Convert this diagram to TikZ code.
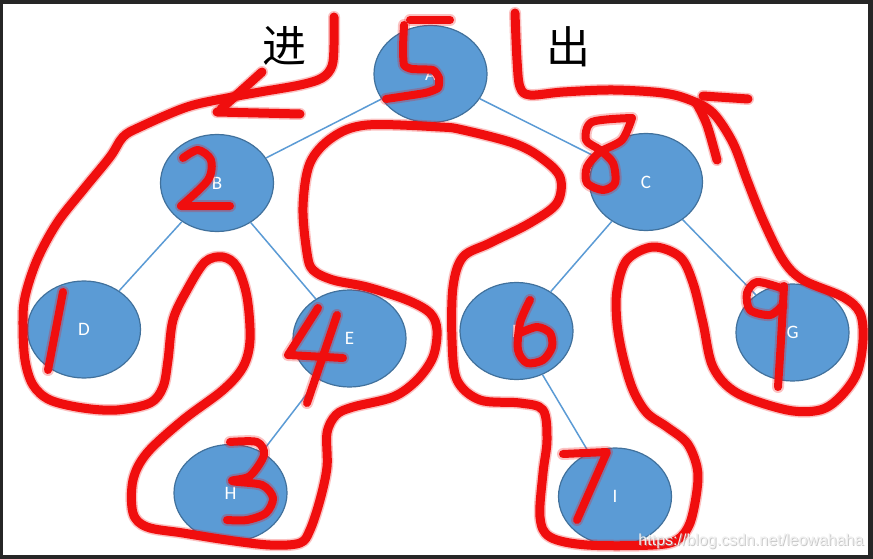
\documentclass[tikz,border=0pt]{standalone}
\usepackage{fontspec}
\setmainfont{Carlito}
\newfontfamily\cjk{Noto Sans CJK SC}
\newfontfamily\wmfont{Liberation Sans}
\usetikzlibrary{shapes.geometric}
\definecolor{nodeblue}{HTML}{5B9BD5}
\definecolor{nodeborder}{HTML}{41719C}
\definecolor{inkred}{RGB}{240,14,14}
\definecolor{framegray}{HTML}{262626}
\begin{document}
\begin{tikzpicture}[x=1pt,y=-1pt,
  tnode/.style={ellipse, draw=nodeborder, line width=1.2pt, fill=nodeblue, text=white,
    inner sep=0pt, minimum width=113pt, minimum height=97pt,
    font=\fontsize{19}{19}\selectfont},
  edge/.style={draw=nodeblue, line width=1.5pt},
  ink/.style={draw=inkred, line width=9pt, line cap=round, line join=round,
    preaction={draw=inkred, line width=12pt, draw opacity=0.25, line cap=round, line join=round}},
  digit/.style={ink, line width=8pt}]
\fill[framegray] (0,0) rectangle (873,559);
\fill[white] (3,4) rectangle (868,555);
\useasboundingbox (0,0) rectangle (873,559);

% tree nodes
\node[tnode] (A) at (430.5,74) {A};
\node[tnode] (B) at (217,183) {B};
\node[tnode] (C) at (646,182) {C};
\node[tnode] (D) at (84,329.5) {D};
\node[tnode] (E) at (349.5,338.5) {E};
\node[tnode] (F) at (516.5,331) {F};
\node[tnode] (G) at (792.5,332.5) {G};
\node[tnode] (H) at (230.5,493) {H};
\node[tnode] (I) at (615,496.5) {I};

\draw[edge] (A) -- (B);
\draw[edge] (A) -- (C);
\draw[edge] (B) -- (D);
\draw[edge] (B) -- (E);
\draw[edge] (E) -- (H);
\draw[edge] (C) -- (F);
\draw[edge] (C) -- (G);
\draw[edge] (F) -- (I);

% texts
\node[font=\cjk\fontsize{44}{44}\selectfont] (jin) at (284,46) {进};
\node[font=\cjk\fontsize{44}{44}\selectfont] (chu) at (568,47) {出};

% red traversal curve
\draw[ink] plot[smooth, tension=0.55] coordinates {
(334,17) (334,45) (332,66) (322,78) (300,85) (260,92) (227,98) (187,107) (140,127)
(123,137) (110,157) (83,190) (57,223) (37,260) (25,297) (23,325) (25,360) (33,385)
(50,400) (83,408) (117,410) (150,403) (163,387) (168,360) (173,320) (187,290)
(205,262) (223,257) (237,267) (247,297) (250,340) (243,367) (223,390) (183,420)
(147,453) (133,480) (133,513) (147,527) (183,533) (227,540) (270,545) (300,543)
(310,530) (320,500) (327,467) (327,433) (336,415) (353,407) (393,397) (417,380)
(433,357) (437,330) (430,313) (407,300) (367,287) (333,280) (313,270) (307,253)
(303,207) (310,163) (333,137) (367,125) (440,127) (463,130) (513,143) (540,157)
(560,177) (557,203) (530,223) (490,243) (463,257) (453,287) (452,340) (457,380)
(480,400) (520,403) (543,410) (547,440) (543,473) (540,517) (550,537) (587,545)
(653,545) (677,540) (690,523) (697,490) (697,467) (687,443) (667,427) (647,413)
(633,390) (623,357) (617,323) (617,290) (627,260) (653,247) (680,257) (693,283)
(703,323) (713,367) (737,393) (787,410) (820,410) (840,397) (857,373) (863,340)
(860,313) (843,297) (803,280) (783,260) (763,220) (747,180) (733,143) (713,113)
(690,100) (663,93) (613,90) (563,92) (530,95) (520,87) (517,60) (515,13)};

% arrow heads
\draw[ink] (262,72) -- (221,109);
\draw[ink] (217,112) -- (300,114);
\draw[ink] (703,96) -- (748,99);
\draw[ink] plot[smooth] coordinates {(697,104) (707,125) (717,160)};

% digits
\draw[digit] (410,20) -- (450,20);
\draw[digit] plot[smooth, tension=0.3] coordinates {(404,25) (403,48) (404,65) (412,69) (433,70) (439,78) (438,88) (425,93) (386,99)};
\draw[digit] plot[smooth, tension=0.5] coordinates {(183,158) (198,150) (211,160) (208,180) (181,206)} -- (230,206);
\draw[digit] (63,292) -- (48,370);
\draw[digit] (318,308) -- (288,355) -- (343,358);
\draw[digit] (337,315) -- (307,403);
\draw[digit] plot[smooth, tension=0.5] coordinates {(230,442) (257,442) (264,455) (250,476) (232,481) (262,485) (273,498) (266,513) (247,520) (227,520)};
\draw[digit] plot[smooth, tension=0.5] coordinates {(530,300) (520,323) (518,350) (527,363) (543,360) (552,347) (550,333) (537,327) (520,333)};
\draw[digit] (563,454) -- (607,452) -- (577,520);
\draw[digit] plot[smooth, tension=0.5] coordinates {(632,118) (592,122) (586,140) (600,150) (613,163) (615,183) (603,190) (587,183) (587,167) (600,152) (622,140) (632,118)};
\draw[digit] plot[smooth, tension=0.5] coordinates {(781,288) (757,282) (747,293) (750,310) (770,315) (782,306)};
\draw[digit] plot[smooth] coordinates {(784,286) (781,340) (778,387)};

% watermark
\node[font=\wmfont\fontsize{16}{16}\selectfont, text=gray!70, opacity=0.6] at (752,542) {https://blog.csdn.net/leowahaha};
\node[font=\wmfont\fontsize{16}{16}\selectfont, text=white!88!gray] (wm) at (751,541) {https://blog.csdn.net/leowahaha};
\end{tikzpicture}
\end{document}
